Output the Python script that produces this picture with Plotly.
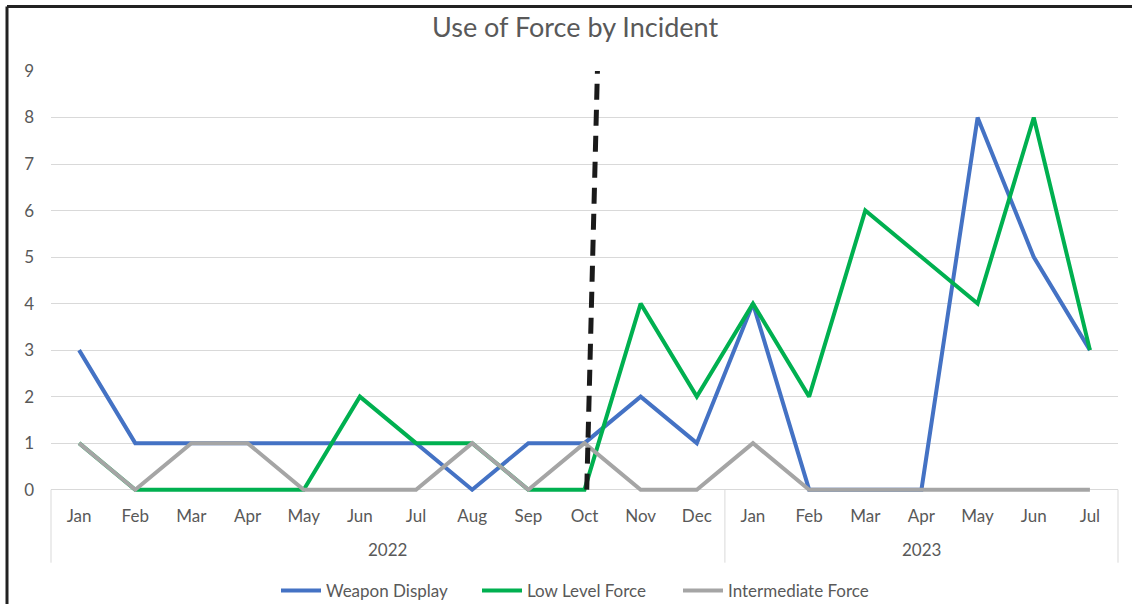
import plotly.graph_objects as go

# ---- data ----
months = ["Jan", "Feb", "Mar", "Apr", "May", "Jun", "Jul", "Aug", "Sep", "Oct", "Nov", "Dec",
          "Jan", "Feb", "Mar", "Apr", "May", "Jun", "Jul"]
years = ["2022"] * 12 + ["2023"] * 7

weapon_display = [3, 1, 1, 1, 1, 1, 1, 0, 1, 1, 2, 1, 4, 0, 0, 0, 8, 5, 3]
low_level_force = [1, 0, 0, 0, 0, 2, 1, 1, 0, 0, 4, 2, 4, 2, 6, 5, 4, 8, 3]
intermediate_force = [1, 0, 1, 1, 0, 0, 0, 1, 0, 1, 0, 0, 1, 0, 0, 0, 0, 0, 0]

series = [
    ("Weapon Display", weapon_display, "#4472C4"),
    ("Low Level Force", low_level_force, "#00B050"),
    ("Intermediate Force", intermediate_force, "#A5A5A5"),
]

# dashed marker line (category index positions, y in data units)
marker_x = [9.04, 9.23]
marker_y = [0, 9]

TEXT = "#595959"
GRID = "#D9D9D9"
FONT = "Lato, 'Open Sans', sans-serif"

n = len(months)
xpos = list(range(n))
YLO, YHI = -0.05, 9
PLOT_H = 421

fig = go.Figure()
for name, vals, color in series:
    fig.add_trace(go.Scatter(
        x=xpos, y=vals, name=name, mode="lines",
        line=dict(color=color, width=4),
    ))

fig.update_layout(
    width=1132, height=604,
    margin=dict(l=51, r=14, t=71, b=112, autoexpand=False),
    paper_bgcolor="white", plot_bgcolor="white",
    font=dict(family=FONT, color=TEXT, size=17),
    title=dict(text="Use of Force by Incident", x=0.508, xanchor="center",
               y=1 - 28 / 604, yanchor="middle",
               font=dict(size=27, color=TEXT, family=FONT)),
    xaxis=dict(range=[-0.5, n - 0.5], showgrid=False, showline=False,
               zeroline=False, tickvals=xpos, ticktext=months, ticks="",
               ticklabelstandoff=12, automargin=False,
               tickfont=dict(size=17, color=TEXT)),
    yaxis=dict(range=[YLO, YHI], tickvals=list(range(10)), showgrid=True,
               gridcolor=GRID, gridwidth=1, zeroline=False, showline=False,
               ticklabelstandoff=16, automargin=False,
               tickfont=dict(size=17, color=TEXT)),
    legend=dict(orientation="h", x=(276 - 51) / 1067, xanchor="left",
                yref="container", y=13 / 604, yanchor="middle",
                font=dict(size=17, color=TEXT),
                itemwidth=40, entrywidth=146, entrywidthmode="pixels",
                traceorder="normal"),
    showlegend=True,
)

# year group labels and dividers
zero_paper = (0 - YLO) / (YHI - YLO)
groups = []
for i, yv in enumerate(years):
    if not groups or groups[-1][0] != yv:
        groups.append([yv, i, i])
    else:
        groups[-1][2] = i
for yv, i0, i1 in groups:
    fig.add_annotation(x=(i0 + i1) / 2, xref="x", y=zero_paper, yref="paper",
                       text=yv, showarrow=False, yanchor="middle", yshift=-60,
                       font=dict(size=17, color=TEXT))
bounds = [g[1] for g in groups] + [n]
for b in bounds:
    fig.add_shape(type="line", xref="paper", yref="paper",
                  x0=b / n, x1=b / n, y0=zero_paper, y1=zero_paper - 73 / PLOT_H,
                  line=dict(color=GRID, width=1))

fig.add_shape(type="line", xref="x", yref="y",
              x0=marker_x[0], y0=marker_y[0], x1=marker_x[1], y1=marker_y[1],
              line=dict(color="#1A1A1A", width=5, dash="16px,10px"))

# chart frame (top and left edges)
fig.add_shape(type="line", xref="paper", yref="paper",
              x0=-44 / 1067, x1=1.2, y0=1 + 64.5 / PLOT_H, y1=1 + 64.5 / PLOT_H,
              line=dict(color="#222222", width=3))
fig.add_shape(type="line", xref="paper", yref="paper",
              x0=-44 / 1067, x1=-44 / 1067, y0=1 + 64.5 / PLOT_H, y1=-0.5,
              line=dict(color="#222222", width=3))

fig.write_html("out.html")
